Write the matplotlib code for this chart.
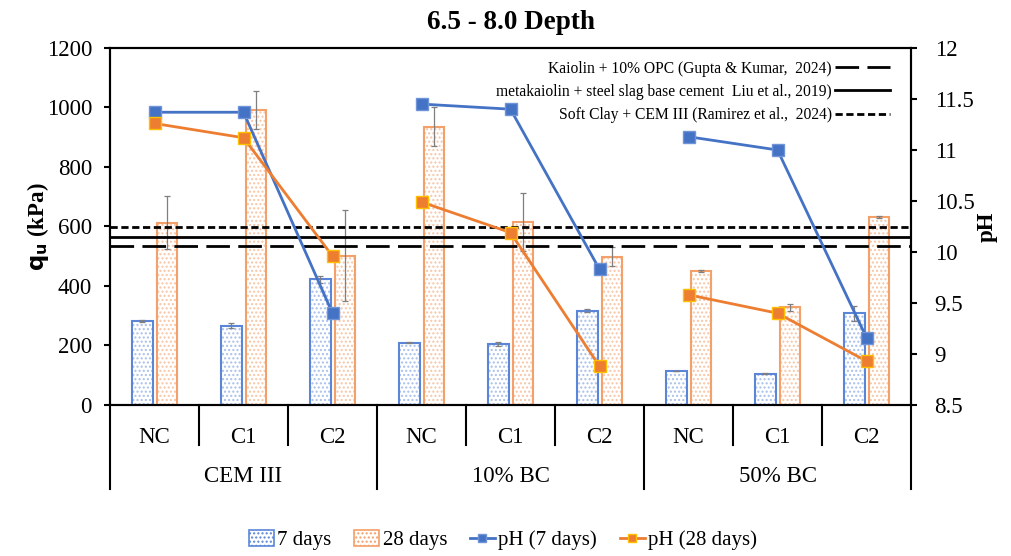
import numpy as np
import matplotlib
matplotlib.use("Agg")
import matplotlib.pyplot as plt
from matplotlib.patches import Patch
from matplotlib.lines import Line2D
from matplotlib.transforms import blended_transform_factory

plt.rcParams['font.family'] = ['Liberation Serif', 'DejaVu Serif']
plt.rcParams['hatch.linewidth'] = 1.0

# ---------------- data ----------------
groups = ["CEM III", "10% BC", "50% BC"]
subcats = ["NC", "C1", "C2"]
qu_7 = [283, 267, 423, 209, 205, 317, 114, 105, 308]
qu_7_err = [3, 8, 12, 2, 8, 5, 1, 1, 26]
qu_28 = [613, 990, 502, 935, 615, 499, 450, 328, 631]
qu_28_err = [89, 64, 154, 65, 96, 31, 3, 12, 3]
ph_7 = [11.37, 11.37, 9.40, 11.45, 11.40, 9.83, 11.13, 11.00, 9.16]
ph_28 = [11.26, 11.12, 9.96, 10.49, 10.19, 8.88, 9.58, 9.40, 8.93]
ref_labels = ["Kaiolin + 10% OPC (Gupta & Kumar,  2024)",
              "metakaiolin + steel slag base cement  Liu et al., 2019)",
              "Soft Clay + CEM III (Ramirez et al.,  2024)"]
ref_values = [535, 566, 598]
left_ticks = [0, 200, 400, 600, 800, 1000, 1200]
right_ticks = [8.5, 9, 9.5, 10, 10.5, 11, 11.5, 12]

# ---------------- styling ----------------
blue = '#4472C4'
blue_edge = '#5B86D8'
blue_hatch = '#A9C0EA'
orange = '#ED7D31'
orange_edge = '#F4A06A'
orange_hatch = '#F8C6A6'
err_col = '#7F7F7F'
fs = 16.5

fig = plt.figure(figsize=(10.12, 5.56), dpi=100)
ax = fig.add_axes([0.1087, 0.2716, 0.7915, 0.6421])

n = len(qu_7)
x = np.arange(n)
w = 0.235
off = 0.14

# hatched fill
ax.bar(x - off, qu_7, w, color='white', edgecolor=blue_hatch, hatch='....', linewidth=0, zorder=2)
ax.bar(x + off, qu_28, w, color='white', edgecolor=orange_hatch, hatch='....', linewidth=0, zorder=2)
# outlines
ax.bar(x - off, qu_7, w, fill=False, edgecolor=blue_edge, linewidth=1.5, zorder=3)
ax.bar(x + off, qu_28, w, fill=False, edgecolor=orange_edge, linewidth=1.5, zorder=3)
ax.errorbar(x - off, qu_7, yerr=qu_7_err, fmt='none', ecolor=err_col, elinewidth=0.9, capsize=2.5, capthick=0.9, zorder=4)
ax.errorbar(x + off, qu_28, yerr=qu_28_err, fmt='none', ecolor=err_col, elinewidth=0.9, capsize=2.5, capthick=0.9, zorder=4)

# reference lines
styles = [(0, (8.5, 3.0)), '-', (0, (2.6, 1.3))]
ref_handles = []
for lab, val, ls in zip(ref_labels, ref_values, styles):
    ax.axhline(val, color='black', linestyle=ls, linewidth=2.0, zorder=5)
    ref_handles.append(Line2D([], [], color='black', linestyle=ls, linewidth=2.0))

ax.set_xlim(-0.5, n - 0.5)
ax.set_ylim(left_ticks[0], left_ticks[-1])
ax.set_yticks(left_ticks)
ax.set_ylabel(r'$\mathbf{q_u}$ (kPa)', fontsize=fs, fontweight='bold')
ax.yaxis.set_label_coords(-0.074, 0.5)
ax.tick_params(axis='y', direction='out', length=4, width=1.5, labelsize=fs, pad=9)

# category axis
ax.set_xticks(x)
ax.set_xticklabels(subcats * len(groups), fontsize=fs)
ax.tick_params(axis='x', length=0, pad=16)

trans = blended_transform_factory(ax.transData, ax.transAxes)
ns = len(subcats)
for b in range(n + 1):
    xb = b - 0.5
    if b % ns == 0:
        ax.plot([xb, xb], [0, -0.235], color='black', lw=1.5, transform=trans, clip_on=False)
    else:
        ax.plot([xb, xb], [0, -0.112], color='black', lw=1.5, transform=trans, clip_on=False)
for gi, g in enumerate(groups):
    ax.text(gi * ns + (ns - 1) / 2, -0.2, g, transform=trans, ha='center', va='center', fontsize=fs)

for sp in ax.spines.values():
    sp.set_linewidth(1.5)
    sp.set_color('black')

ax.set_title('6.5 - 8.0 Depth', fontsize=19.5, fontweight='bold', pad=14)

# secondary axis for pH (separate line per group)
ax2 = ax.twinx()
for gi in range(len(groups)):
    sl = slice(gi * ns, (gi + 1) * ns)
    ax2.plot(x[sl], ph_7[sl], color=blue, lw=2, marker='s', markersize=8, markerfacecolor=blue,
             markeredgecolor='#6F95D8', markeredgewidth=1, zorder=6)
    ax2.plot(x[sl], ph_28[sl], color=orange, lw=2, marker='s', markersize=8, markerfacecolor=orange,
             markeredgecolor='#FFC000', markeredgewidth=1, zorder=6)
ax2.set_ylim(right_ticks[0], right_ticks[-1])
ax2.set_yticks(right_ticks)
ax2.set_yticklabels(['%g' % t for t in right_ticks])
ax2.tick_params(axis='y', direction='out', length=4, width=1.5, labelsize=fs, pad=13)
ax2.set_ylabel('pH', fontsize=fs, fontweight='bold')
ax2.yaxis.set_label_coords(1.082, 0.5)
for sp in ax2.spines.values():
    sp.set_linewidth(1.5)

# reference legend (inside, top right)
ax2.legend(ref_handles, ref_labels, loc='upper right', bbox_to_anchor=(0.985, 0.99),
           frameon=False, markerfirst=False, fontsize=11.25, handlelength=3.5,
           handletextpad=0.2, labelspacing=0.45, borderaxespad=0.2)

# bottom legend
handles = [Patch(facecolor='white', edgecolor=blue_edge, hatch='....', linewidth=1.2),
           Patch(facecolor='white', edgecolor=orange_edge, hatch='....', linewidth=1.2),
           Line2D([], [], color=blue, lw=2, marker='s', markersize=6, markerfacecolor=blue,
                  markeredgecolor='#6F95D8'),
           Line2D([], [], color=orange, lw=2, marker='s', markersize=6, markerfacecolor=orange,
                  markeredgecolor='#FFC000')]
labels = ['7 days', '28 days', 'pH (7 days)', 'pH (28 days)']
fig.legend(handles, labels, loc='center', bbox_to_anchor=(503 / 1012, 1 - 540 / 556), ncol=4,
           frameon=False, fontsize=15, handlelength=1.2, handletextpad=0.15, columnspacing=1.1,
           handleheight=0.8)

fig.savefig('out.png', dpi=100)
